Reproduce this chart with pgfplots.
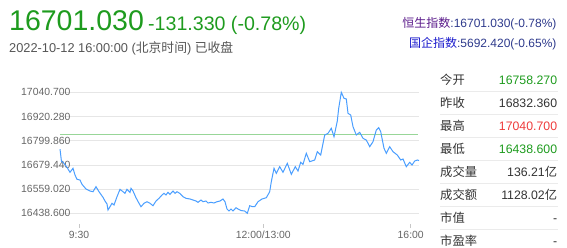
\documentclass[border=0pt]{standalone}
\usepackage{pgfplots}
\usepackage{pgfplotstable}
\pgfplotsset{compat=1.18}
\usepackage{fontspec}
\setmainfont{Liberation Sans}
\newfontfamily\cjk{Noto Sans CJK SC}
\definecolor{upgreen}{HTML}{1E9B1E}
\definecolor{txtgray}{HTML}{555555}
\definecolor{tickgray}{HTML}{666666}
\definecolor{gridgray}{HTML}{E6E6E6}
\definecolor{lineblue}{HTML}{4A9EFF}
\definecolor{prevgreen}{HTML}{98D698}
\definecolor{linkpurple}{HTML}{5A1A8A}
\definecolor{linkblue}{HTML}{1A1ACC}
\definecolor{linknavy}{HTML}{2E3A8C}
\definecolor{hired}{HTML}{EE3B3B}
\definecolor{dark}{HTML}{333333}
\definecolor{sepgray}{HTML}{EBEBEB}

\pgfplotstableread{
x y
60 16758.3
61.5 16695.4
63 16693.9
64.7 16682.4
67 16667.5
70 16642.6
73 16662.5
75 16629.2
77 16607.8
80 16604.3
82 16582.9
86 16559.5
90 16549.6
93 16546.1
96 16571.0
99 16546.1
103 16518.2
105 16499.8
107 16484.9
108 16455.0
110 16471.4
112 16488.4
114 16479.9
117 16521.2
120 16558.0
123 16546.1
125 16538.1
127 16558.0
130 16543.1
131 16563.0
133 16549.6
136 16516.2
139 16488.4
141 16471.4
144 16488.4
147 16496.3
150 16488.4
153 16476.4
156 16499.8
159 16513.2
162 16529.7
164 16538.1
166 16529.7
168 16543.1
170 16533.1
173 16549.6
175 16538.1
177 16546.1
180 16537.1
183 16521.2
186 16513.2
190 16509.8
193 16504.8
196 16499.8
198 16493.3
201 16504.8
203 16496.3
206 16499.8
208 16489.9
211 16493.3
214 16489.9
217 16496.3
220 16499.8
223 16509.8
225 16496.3
227 16460.0
229 16450.0
231 16460.0
233 16450.0
236 16466.5
238 16460.0
241 16452.5
244.7 16450.0
247.3 16438.6
249.7 16476.4
252 16472.4
254.7 16471.4
258 16496.3
262 16509.8
266.3 16516.2
269.7 16546.1
271.3 16595.8
274 16662.5
276.3 16637.6
279.7 16670.5
283 16642.6
287.3 16687.4
291.3 16632.7
295.3 16670.5
298 16649.1
300.7 16692.4
303 16682.4
306.3 16737.2
309.7 16695.4
314.7 16703.8
317.3 16745.1
320.7 16728.7
324.7 16828.2
328 16836.7
331.3 16861.6
334 16819.8
337.3 16897.9
338.7 16961.1
341.3 17040.7
344 17010.8
346.3 17007.4
348 16936.2
350.7 16927.7
353 16869.5
356.3 16828.2
359.7 16841.7
363 16811.8
366.3 16803.3
369.7 16770.0
373 16794.9
376.3 16853.1
378.7 16864.5
380.7 16844.6
384 16762.0
386.3 16737.2
389.7 16770.0
393 16745.1
397.3 16728.7
400.7 16703.8
403 16708.8
406.3 16670.5
409.7 16692.4
412 16678.9
414.7 16698.8
417.3 16703.8
419 16701.0
}\hsidata

\begin{document}
\begin{tikzpicture}[x=1pt,y=1pt]
\useasboundingbox (0,0) rectangle (567,247);
\begin{axis}[
  at={(60pt,23pt)}, anchor=south west,
  scale only axis, width=359pt, height=139.6pt,
  xmin=60, xmax=419, ymin=16385.4, ymax=17080,
  axis line style={draw=none},
  scaled y ticks=false, scaled x ticks=false,
  ytick={16438.6,16559.02,16679.44,16799.86,16920.28,17040.7},
  yticklabels={16438.600,16559.020,16679.440,16799.860,16920.280,17040.700},
  ymajorgrids, grid style={gridgray, line width=0.8pt},
  ytick style={draw=none},
  yticklabel style={anchor=west, inner sep=0pt, xshift=-35pt, text=tickgray, font=\fontsize{10.4}{12}\selectfont},
  xtick={79,263.3,410.7}, xticklabels={9:30,12:00/13:00,16:00},
  xtick pos=lower, tick align=outside, major tick length=4pt,
  xtick style={draw=gridgray!70!gray, line width=0.6pt},
  xticklabel style={anchor=north, inner sep=0pt, yshift=-3pt, text=tickgray, font=\fontsize{10.4}{12}\selectfont},
  /pgf/number format/assume math mode=true,
  clip=false,
]
\addplot[prevgreen, line width=1.3pt] coordinates {(60,16832.36) (418,16832.36)};
\addplot[lineblue, line width=1pt] table {\hsidata};
\end{axis}
% header
\node[anchor=base west, inner sep=0, text=upgreen, font=\fontsize{28.5}{30}\selectfont] at (9,216.5) {16701.030};
\node[anchor=base west, inner sep=0, text=upgreen, font=\fontsize{19.6}{22}\selectfont] at (148,217) {-131.330 (-0.78\%)};
\node[anchor=base west, inner sep=0, text=txtgray, font=\fontsize{12.8}{14}\selectfont] at (9,194.3) {2022-10-12 16:00:00 ({\cjk 北京时间}) {\cjk 已收盘}};
\node[anchor=base east, inner sep=0, font=\fontsize{12}{14}\selectfont] at (556.7,219) {\textcolor{linkpurple}{\cjk 恒生指数}\textcolor{linknavy}{:16701.030(-0.78\%)}};
\node[anchor=base east, inner sep=0, font=\fontsize{12}{14}\selectfont] at (556.7,199.7) {\textcolor{linkblue}{\cjk 国企指数}\textcolor{linknavy}{:5692.420(-0.65\%)}};
% table
\foreach \i in {0,...,6} {
  \draw[sepgray, line width=0.7pt] (440,155.3-22.9*\i) -- (558,155.3-22.9*\i);
}
\begin{scope}[every node/.style={inner sep=0, font=\fontsize{12.3}{14}\selectfont}]
\node[anchor=base west, text=dark] at (440,162.6) {\cjk 今开};
\node[anchor=base west, text=dark] at (440,139.65) {\cjk 昨收};
\node[anchor=base west, text=dark] at (440,116.7) {\cjk 最高};
\node[anchor=base west, text=dark] at (440,93.75) {\cjk 最低};
\node[anchor=base west, text=dark] at (440,70.8) {\cjk 成交量};
\node[anchor=base west, text=dark] at (440,47.85) {\cjk 成交额};
\node[anchor=base west, text=dark] at (440,24.9) {\cjk 市值};
\node[anchor=base west, text=dark] at (440,1.95) {\cjk 市盈率};
\node[anchor=base east, text=upgreen] at (557.3,162.6) {16758.270};
\node[anchor=base east, text=dark] at (557.3,139.65) {16832.360};
\node[anchor=base east, text=hired] at (557.3,116.7) {17040.700};
\node[anchor=base east, text=upgreen] at (557.3,93.75) {16438.600};
\node[anchor=base east, text=dark] at (557.3,70.8) {136.21{\cjk 亿}};
\node[anchor=base east, text=dark] at (557.3,47.85) {1128.02{\cjk 亿}};
\node[anchor=base east, text=dark] at (557.3,24.9) {-};
\node[anchor=base east, text=dark] at (557.3,1.95) {-};
\end{scope}
\end{tikzpicture}
\end{document}
